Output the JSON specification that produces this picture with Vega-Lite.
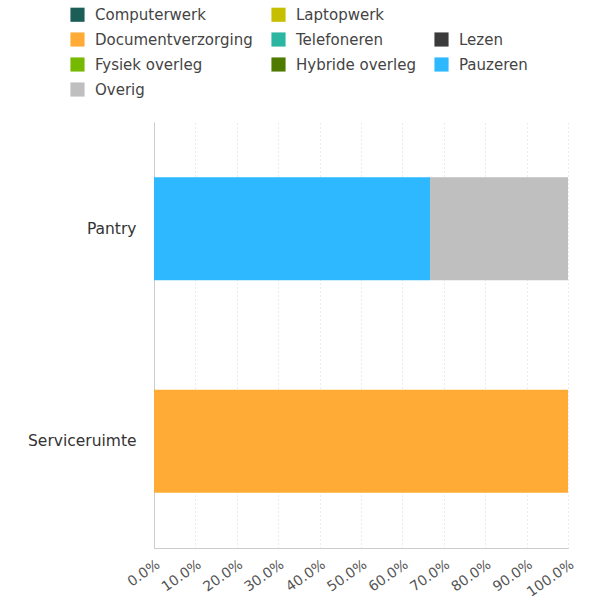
{
  "$schema": "https://vega.github.io/schema/vega-lite/v6.json",
  "autosize": {"type": "none"},
  "padding": {"left": 154, "top": 122, "right": 21, "bottom": 54},
  "width": 414,
  "height": 426,
  "background": "white",
  "config": {
    "font": "DejaVu Sans",
    "view": {"stroke": null}
  },
  "data": {
    "values": [
      {"ruimte": "Pantry", "activiteit": "Pauzeren", "aandeel": 0.6667, "volgorde": 8},
      {"ruimte": "Pantry", "activiteit": "Overig", "aandeel": 0.3333, "volgorde": 9},
      {"ruimte": "Serviceruimte", "activiteit": "Documentverzorging", "aandeel": 1.0, "volgorde": 3}
    ]
  },
  "mark": {"type": "bar"},
  "encoding": {
    "y": {
      "field": "ruimte",
      "type": "nominal",
      "sort": ["Pantry", "Serviceruimte"],
      "scale": {"paddingInner": 0.515, "paddingOuter": 0.26},
      "axis": {
        "title": null,
        "ticks": false,
        "labelPadding": 18,
        "labelFontSize": 15.5,
        "labelColor": "#333333",
        "labelFont": "DejaVu Sans",
        "domainColor": "#cccccc",
        "grid": false
      }
    },
    "x": {
      "field": "aandeel",
      "type": "quantitative",
      "stack": "zero",
      "scale": {"domain": [0, 1], "nice": false},
      "axis": {
        "title": null,
        "format": ".1%",
        "values": [0, 0.1, 0.2, 0.3, 0.4, 0.5, 0.6, 0.7, 0.8, 0.9, 1.0],
        "labelOverlap": false,
        "labelAngle": -35,
        "labelAlign": "right",
        "labelBaseline": "top",
        "labelFontSize": 14,
        "labelColor": "#555555",
        "labelPadding": 9,
        "ticks": false,
        "domainColor": "#cccccc",
        "grid": true,
        "gridColor": "#d9d9d9",
        "gridDash": [1, 3]
      }
    },
    "order": {"field": "volgorde", "type": "quantitative"},
    "color": {
      "field": "activiteit",
      "type": "nominal",
      "scale": {
        "domain": ["Computerwerk", "Laptopwerk", " ", "Documentverzorging", "Telefoneren", "Lezen", "Fysiek overleg", "Hybride overleg", "Pauzeren", "Overig"],
        "range": ["#1b5e57", "#c6bf00", "rgba(255,255,255,0)", "#ffab35", "#2ab6a1", "#3b3b3b", "#76b900", "#4e7a00", "#2db8ff", "#bfbfbf"]
      },
      "legend": {
        "title": null,
        "orient": "none",
        "legendX": -84,
        "legendY": -115,
        "columns": 3,
        "direction": "horizontal",
        "symbolType": "square",
        "symbolSize": 200,
        "symbolStrokeWidth": 0,
        "labelFontSize": 15,
        "labelColor": "#444444",
        "labelFont": "DejaVu Sans",
        "labelOffset": 10,
        "rowPadding": 9,
        "columnPadding": 18,
        "labelLimit": 300
      }
    }
  }
}
